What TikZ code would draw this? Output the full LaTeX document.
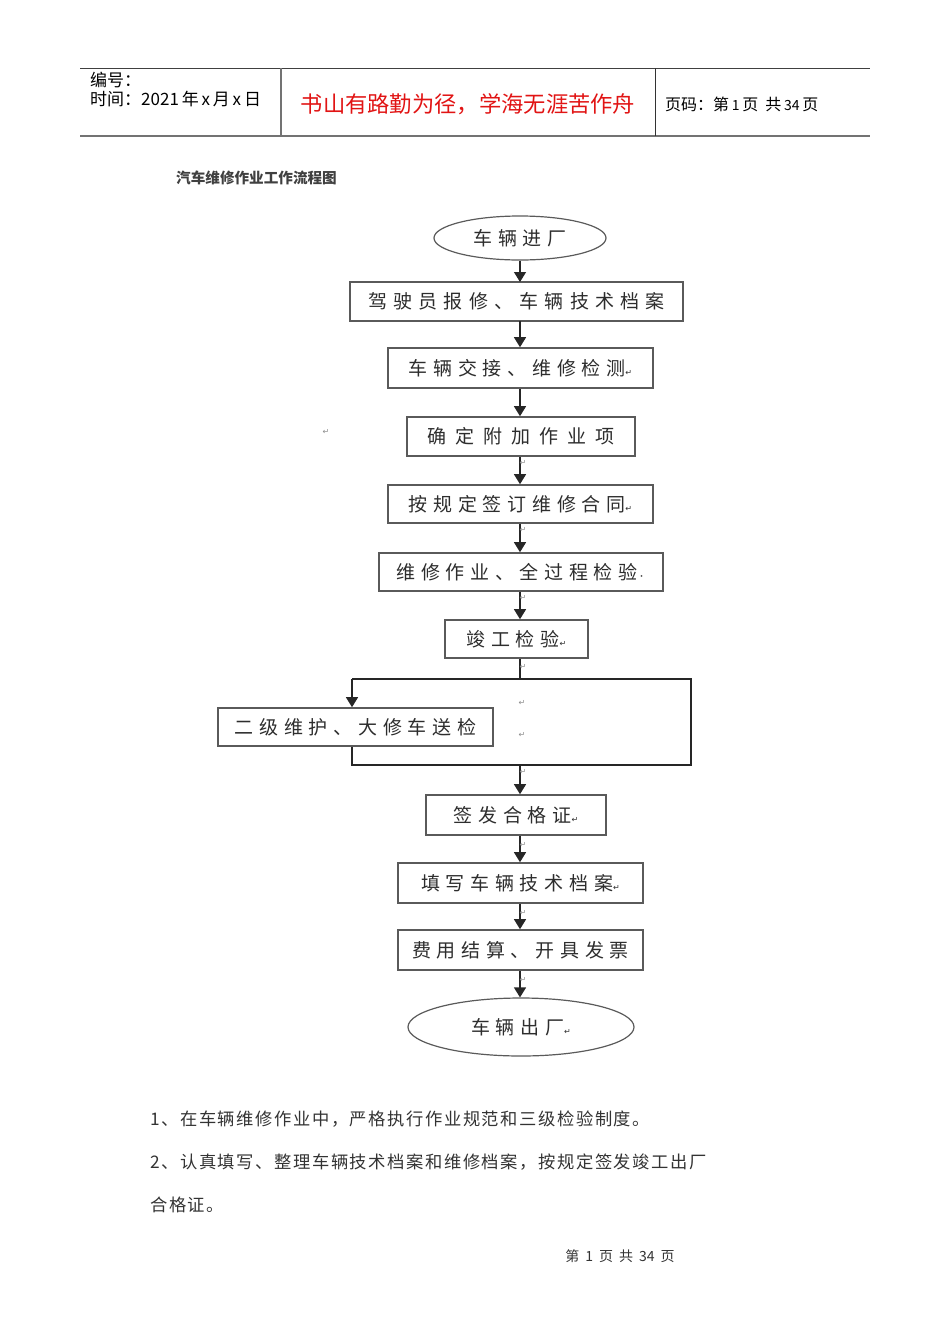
\documentclass[tikz,border=0pt]{standalone}
\usepackage{fontspec}
\newfontfamily\cjk{Noto Sans CJK SC}
\newfontfamily\cjksp[LetterSpace=30]{Noto Sans CJK SC}
\newfontfamily\cjkbody[LetterSpace=9]{Noto Sans CJK SC}
\newfontfamily\dejavu{DejaVu Sans}
\usetikzlibrary{shapes.geometric,arrows.meta}
\definecolor{boxgray}{RGB}{90,90,90}
\definecolor{txtgray}{RGB}{45,45,45}
\definecolor{hdrred}{RGB}{225,20,20}
\tikzset{
  stepbox/.style={draw=boxgray, line width=1.6pt, fill=white, inner sep=0pt, text=txtgray,
    font=\cjksp\fontsize{19}{19}\selectfont},
  endell/.style={ellipse, draw=boxgray, line width=1.2pt, inner sep=0pt, text=txtgray,
    font=\cjksp\fontsize{19}{19}\selectfont},
  arr/.style={draw=black!85, line width=1.3pt, -{Triangle[width=12pt,length=10pt]}},
  ln/.style={draw=black!85, line width=1.3pt},
  parmark/.style={text=black!45, font=\dejavu\fontsize{8}{8}\selectfont, inner sep=0pt},
  hdr/.style={font=\cjk\fontsize{17}{17}\selectfont, anchor=west, inner sep=0pt},
  body/.style={font=\cjkbody\fontsize{17.3}{17.3}\selectfont, anchor=west, inner sep=0pt, text=black!80}
}
\begin{document}
\begin{tikzpicture}[x=1pt,y=-1pt]
\useasboundingbox (0,0) rectangle (950,1344);
% header
\draw[black!75, line width=1pt] (80,68) -- (870,68);
\draw[black!55, line width=2pt] (80,136) -- (870,136);
\draw[black!55, line width=1.2pt] (281,68) -- (281,136);
\draw[black!80, line width=1pt] (655,68) -- (655,136);
\node[hdr] (h1) at (90,80) {编号：};
\node[hdr] (h2) at (90,99) {时间：2021\,年\,x\,月\,x\,日};
\node[font=\cjk\fontsize{22.3}{22.3}\selectfont, text=hdrred, inner sep=0pt] (h3) at (468,104) {书山有路勤为径，学海无涯苦作舟};
\node[hdr, font=\cjk\fontsize{16}{16}\selectfont] (h4) at (665,104) {页码：第\,{\fontsize{14}{14}\selectfont 1}\,页\ \ 共\,{\fontsize{14}{14}\selectfont 34}\,页};
% title
\node[font=\cjk\bfseries\fontsize{14.6}{14.6}\selectfont, text=black!75, anchor=west, inner sep=0pt] (title) at (176,178) {汽车维修作业工作流程图};
% flowchart
\node[endell, minimum width=172pt, minimum height=44pt] (e1) at (520,238) {车辆进厂};
\node[stepbox, minimum width=333pt, minimum height=39pt, font=\cjk\addfontfeatures{LetterSpace=33}\fontsize{19}{19}\selectfont] (b2) at (516.5,301.5) {驾驶员报修、车辆技术档案};
\node[stepbox, minimum width=265pt, minimum height=40pt] (b3) at (520.5,368) {车辆交接、维修检测{\dejavu\fontsize{8}{8}\selectfont ↵}};
\node[stepbox, minimum width=228pt, minimum height=39pt, font=\cjk\addfontfeatures{LetterSpace=48}\fontsize{19}{19}\selectfont] (b4) at (521,436.5) {确定附加作业项};
\node[stepbox, minimum width=265pt, minimum height=38pt] (b5) at (520.5,504) {按规定签订维修合同{\dejavu\fontsize{8}{8}\selectfont ↵}};
\node[stepbox, minimum width=284pt, minimum height=38pt] (b6) at (521,572) {维修作业、全过程检验{\fontsize{8}{8}\selectfont ·}};
\node[stepbox, minimum width=143pt, minimum height=38pt] (b7) at (516.5,639) {竣工检验{\dejavu\fontsize{8}{8}\selectfont ↵}};
\node[stepbox, minimum width=275pt, minimum height=38pt] (b8) at (355.5,727) {二级维护、大修车送检};
\node[stepbox, minimum width=180pt, minimum height=40pt] (b9) at (516,815) {签发合格证{\dejavu\fontsize{8}{8}\selectfont ↵}};
\node[stepbox, minimum width=245pt, minimum height=40pt] (b10) at (520.5,883) {填写车辆技术档案{\dejavu\fontsize{8}{8}\selectfont ↵}};
\node[stepbox, minimum width=245pt, minimum height=40pt] (b11) at (520.5,950) {费用结算、开具发票};
\node[endell, minimum width=226pt, minimum height=58pt] (e2) at (521,1027) {车辆出厂{\dejavu\fontsize{8}{8}\selectfont ↵}};
% connectors
\draw[arr] (e1.south -| 520,0) -- (520,282);
\draw[arr] (520,321) -- (b3.north -| 520,0);
\draw[arr] (b3.south -| 520,0) -- (b4.north -| 520,0);
\draw[arr] (b4.south -| 520,0) -- (b5.north -| 520,0);
\draw[arr] (b5.south -| 520,0) -- (b6.north -| 520,0);
\draw[arr] (b6.south -| 520,0) -- (b7.north -| 520,0);
\coordinate (jt) at (520,679);
\coordinate (tl) at (352,679);
\coordinate (tr) at (691,679);
\coordinate (br) at (691,765);
\coordinate (jb) at (520,765);
\coordinate (bl) at (352,765);
\draw[ln] (b7.south -| 520,0) -- (jt);
\draw[ln] (tl) -- (tr) -- (br) -- (bl) -- (bl |- b8.south);
\draw[arr] (tl) -- (tl |- b8.north);
\draw[arr] (jb) -- (b9.north -| 520,0);
\draw[arr] (b9.south -| 520,0) -- (b10.north -| 520,0);
\draw[arr] (b10.south -| 520,0) -- (b11.north -| 520,0);
\draw[arr] (b11.south -| 520,0) -- (e2.north -| 520,0);
% stray paragraph marks
\node[parmark] (m0) at (326,432) {↵};
\node[parmark] (m1) at (523,463) {↵};
\node[parmark] (m2) at (523,530) {↵};
\node[parmark] (m3) at (523,598) {↵};
\node[parmark] (m4) at (523,667) {↵};
\node[parmark] (m5) at (522,703) {↵};
\node[parmark] (m6) at (522,735) {↵};
\node[parmark] (m7) at (523,772) {↵};
\node[parmark] (m8) at (523,845) {↵};
\node[parmark] (m9) at (523,913) {↵};
\node[parmark] (m10) at (523,980) {↵};
% body text
\node[body] (t1) at (150,1119) {1、在车辆维修作业中，严格执行作业规范和三级检验制度。};
\node[body] (t2) at (150,1162) {2、认真填写、整理车辆技术档案和维修档案，按规定签发竣工出厂};
\node[body] (t3) at (150,1205) {合格证。};
% footer
\node[font=\cjk\fontsize{14}{14}\selectfont, text=black!80, inner sep=0pt] (foot) at (620,1256) {第\hspace{6pt}1\hspace{6pt}页\hspace{6pt}共\hspace{6pt}34\hspace{6pt}页};
\end{tikzpicture}
\end{document}
